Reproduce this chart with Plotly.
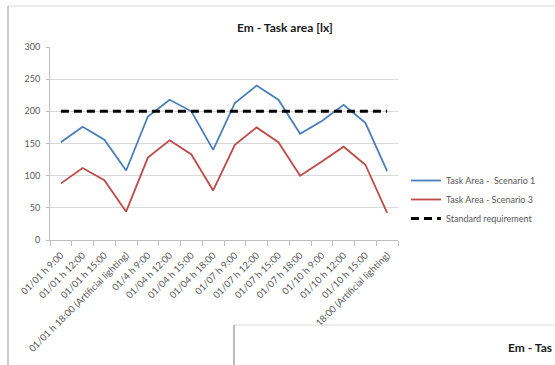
import plotly.graph_objects as go

W, H = 555, 365

categories = [
    "01/01 h 9:00", "01/01 h 12:00", "01/01 h 15:00",
    "01/01 h 18:00 (Artificial lighting)",
    "01/4 h 9:00", "01/04 h 12:00", "01/04 h 15:00", "01/04 h 18:00",
    "01/07 h 9:00", "01/07 h 12:00", "01/07 h 15:00", "01/07 h 18:00",
    "01/10 h 9:00", "01/10 h 12:00", "01/10 h 15:00",
    "01/10 h 18:00 (Artificial lighting)",
]
scenario_1 = [152, 176, 156, 108, 192, 218, 200, 140, 213, 240, 218, 165, 185, 210, 182, 107]
scenario_3 = [88, 112, 93, 44, 128, 155, 133, 77, 148, 175, 152, 100, 122, 145, 117, 42]
standard = [200] * len(categories)
y_ticks = [0, 50, 100, 150, 200, 250, 300]

FONT = "Lato, 'Open Sans', sans-serif"
TXT = "#595959"


def px(x):
    return x / W


def py(y):
    return (H - y) / H


fig = go.Figure()
fig.add_trace(go.Scatter(
    x=categories, y=scenario_1, mode="lines", name="Task Area -  Scenario 1",
    line=dict(color="#4A7EBB", width=1.8),
))
fig.add_trace(go.Scatter(
    x=categories, y=scenario_3, mode="lines", name="Task Area - Scenario 3",
    line=dict(color="#BE4B48", width=1.8),
))
fig.add_trace(go.Scatter(
    x=categories, y=standard, mode="lines", name="Standard requirement",
    line=dict(color="#000000", width=3, dash="8px,5px"),
))

shapes = [
    # outer chart frame
    dict(type="line", xref="paper", yref="paper", x0=px(8), x1=px(555), y0=py(6), y1=py(6),
         line=dict(color="#d9d9d9", width=1)),
    dict(type="line", xref="paper", yref="paper", x0=px(8), x1=px(8), y0=py(6), y1=py(365),
         line=dict(color="#a6a6a6", width=1.2)),
    # neighbouring chart panel overlapping the lower right corner
    dict(type="rect", xref="paper", yref="paper", x0=px(234), x1=px(560), y0=py(325), y1=py(370),
         fillcolor="white", line=dict(width=0), layer="above"),
    dict(type="line", xref="paper", yref="paper", x0=px(234), x1=px(555), y0=py(325), y1=py(325),
         line=dict(color="#d9d9d9", width=1), layer="above"),
    dict(type="line", xref="paper", yref="paper", x0=px(234), x1=px(234), y0=py(325), y1=py(365),
         line=dict(color="#8c8c8c", width=1.2), layer="above"),
]

annotations = [
    dict(text="<b>Em - Task area [lx]</b>", xref="paper", yref="paper",
         x=px(285), y=py(27), xanchor="center", yanchor="middle", showarrow=False,
         font=dict(family=FONT, size=12, color="#1a1a1a")),
    # title of the neighbouring panel, which runs off the page edge
    dict(text="<b>Em - Tas</b>", xref="paper", yref="paper",
         x=px(554), y=py(347), xanchor="right", yanchor="middle", showarrow=False,
         font=dict(family=FONT, size=12, color="#1a1a1a")),
]

fig.update_layout(
    width=W, height=H,
    margin=dict(l=0, r=0, t=0, b=0, autoexpand=False),
    paper_bgcolor="white", plot_bgcolor="white",
    font=dict(family=FONT, size=9, color=TXT),
    showlegend=True,
    legend=dict(
        x=px(406), y=py(166), xanchor="left", yanchor="top",
        font=dict(family=FONT, size=9, color=TXT),
        itemwidth=30, tracegroupgap=0, bgcolor="rgba(0,0,0,0)",
    ),
    xaxis=dict(
        domain=[px(50), px(398)], automargin=False,
        type="category", tickangle=-45,
        showgrid=False, showline=True, linecolor="#bfbfbf", linewidth=1,
        ticks="outside", tickson="boundaries", ticklen=5, tickcolor="#bfbfbf",
        ticklabelstandoff=5,
        tickfont=dict(family=FONT, size=9.5, color=TXT),
        range=[-0.5, len(categories) - 0.5],
    ),
    yaxis=dict(
        domain=[py(240), py(47)], automargin=False,
        range=[0, 300], tickvals=y_ticks,
        showgrid=True, gridcolor="#d9d9d9", gridwidth=1,
        showline=True, linecolor="#bfbfbf", linewidth=1,
        ticks="outside", ticklen=3, tickcolor="#bfbfbf",
        ticklabelstandoff=4,
        tickfont=dict(family=FONT, size=9, color=TXT),
        zeroline=False,
    ),
    shapes=shapes,
    annotations=annotations,
)

fig.write_html("out.html")
